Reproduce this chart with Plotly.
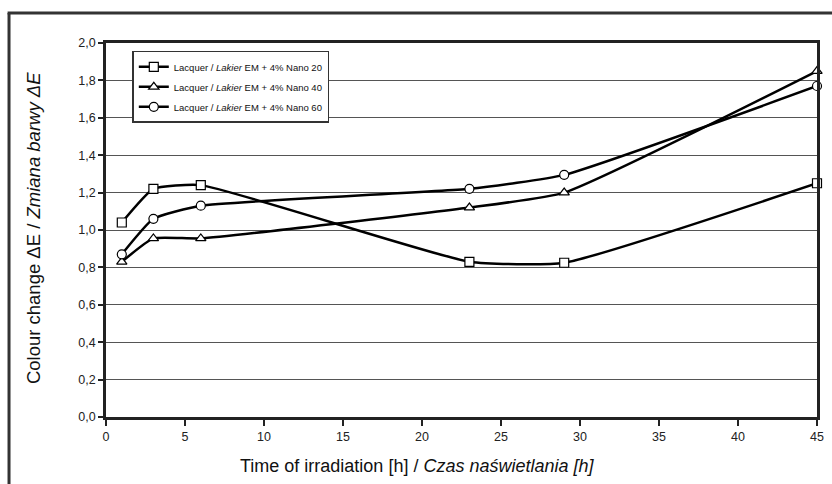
import plotly.graph_objects as go

time_h = [1, 3, 6, 23, 29, 45]
nano20 = [1.04, 1.22, 1.24, 0.83, 0.825, 1.25]
nano40 = [0.83, 0.955, 0.955, 1.12, 1.20, 1.85]
nano60 = [0.87, 1.06, 1.13, 1.22, 1.295, 1.77]

names = [
    "Lacquer / <i>Lakier</i> EM + 4% Nano 20",
    "Lacquer / <i>Lakier</i> EM + 4% Nano 40",
    "Lacquer / <i>Lakier</i> EM + 4% Nano 60",
]
symbols = ["square", "triangle-up", "circle"]
series = [nano20, nano40, nano60]

fig = go.Figure()
for i, (name, sym, vals) in enumerate(zip(names, symbols, series)):
    fig.add_trace(go.Scatter(
        x=time_h, y=vals, name=name, mode="lines+markers",
        legendgroup=f"g{i}",
        line=dict(color="black", width=2.5, shape="spline", smoothing=0.45),
        marker=dict(symbol=sym, size=9, color="white",
                    line=dict(color="black", width=1.2)),
        cliponaxis=False,
    ))

fig.update_layout(
    width=832, height=484,
    margin=dict(l=106, r=15, t=43, b=67, autoexpand=False),
    paper_bgcolor="white", plot_bgcolor="white",
    separators=",.",
    font=dict(family="Arial, Liberation Sans, sans-serif", color="#222"),
    showlegend=True,
    legend=dict(
        x=0.037, y=0.979, xanchor="left", yanchor="top",
        bgcolor="white", bordercolor="#333", borderwidth=1.5,
        font=dict(family="Liberation Sans Narrow, Arial Narrow, Arial, sans-serif", size=9.5, color="#111"),
        itemwidth=30, tracegroupgap=1, traceorder="grouped",
    ),
    xaxis=dict(
        range=[0, 45], tickvals=[0, 5, 10, 15, 20, 25, 30, 35, 40, 45],
        showgrid=False, zeroline=False, automargin=False,
        showline=True, linecolor="#222", linewidth=2.5, mirror=True,
        ticks="outside", ticklen=6, tickwidth=1.5, tickcolor="#222",
        tickfont=dict(size=12.5, color="#222"),
    ),
    yaxis=dict(
        range=[0, 2], dtick=0.2, tickformat=".1f",
        showgrid=True, gridcolor="#555", gridwidth=1.2, zeroline=False, automargin=False,
        showline=True, linecolor="#222", linewidth=2.5, mirror=True,
        ticks="outside", ticklen=5, tickwidth=1.5, tickcolor="#222",
        tickfont=dict(size=12.5, color="#222"),
    ),
)

fig.add_annotation(
    text="Time of irradiation [h] / <i>Czas naświetlania [h]</i>",
    xref="paper", yref="paper", x=0.4374, y=-0.131,
    xanchor="center", yanchor="middle", showarrow=False,
    font=dict(size=18, color="#111"),
)
fig.add_annotation(
    text="Colour change ΔE / <i>Zmiana barwy ΔE</i>",
    xref="paper", yref="paper", x=-0.1027, y=0.505, textangle=-90,
    xanchor="center", yanchor="middle", showarrow=False,
    font=dict(size=18.5, color="#111"),
)

# outer frame (left and top edges visible)
fig.add_shape(type="line", xref="paper", yref="paper",
              x0=-0.1364, x1=-0.1364, y0=-0.2, y1=1.0802,
              line=dict(color="#333", width=3), layer="below")
fig.add_shape(type="line", xref="paper", yref="paper",
              x0=-0.1384, x1=1.05, y0=1.0802, y1=1.0802,
              line=dict(color="#333", width=3), layer="below")

fig.write_html("out.html",
               config={"displayModeBar": False},
               post_script="document.body.style.margin='0';document.body.style.overflow='hidden';")
